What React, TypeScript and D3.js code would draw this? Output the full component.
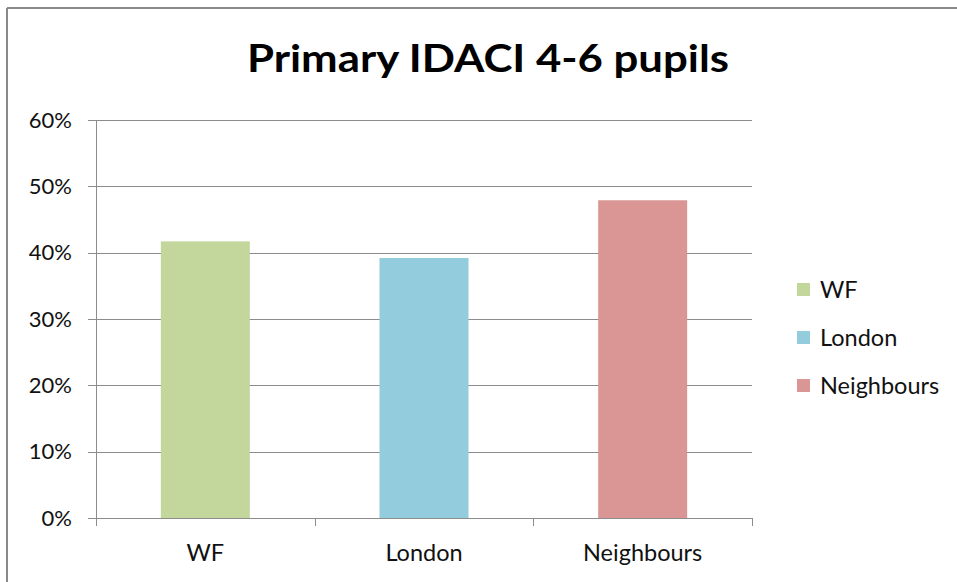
import React from "react";
import * as d3 from "d3";

const categories = ["WF", "London", "Neighbours"];
const values = [0.417, 0.392, 0.479];
const colors = ["#c3d69b", "#93cddd", "#d99694"];
const yTicks = [0, 0.1, 0.2, 0.3, 0.4, 0.5, 0.6];
const title = "Primary IDACI 4-6 pupils";

const W = 957;
const H = 582;
const FONT = "Lato, 'Open Sans', sans-serif";

export default function App() {
  const left = 96;
  const right = 752;
  const top = 120;
  const bottom = 518;

  const x = d3.scaleBand<string>().domain(categories).range([left, right]).paddingInner(0.593).paddingOuter(0.2965);
  const xOuter = d3.scaleBand<string>().domain(categories).range([left, right]).padding(0);
  const y = d3.scaleLinear().domain([0, 0.6]).range([bottom, top]);
  const fmt = d3.format(".0%");
  const grid = "#8c8c8c";
  const textFill = "#111";

  return (
    <svg width={W} height={H} style={{ position: "absolute", left: 0, top: 0, background: "#fff" }}>
      <rect x={0} y={0} width={W} height={H} fill="#fff" />
      {/* outer chart border (cropped on right/bottom) */}
      <line x1={7} y1={8} x2={W} y2={8} stroke="#8a8a8a" strokeWidth={2} />
      <line x1={7} y1={8} x2={7} y2={H} stroke="#8a8a8a" strokeWidth={2} />

      <text x={488} y={72} textAnchor="middle" fontFamily={FONT} fontWeight="bold" fontSize={38} fill="#000"
        textLength={482} lengthAdjust="spacingAndGlyphs">{title}</text>

      {/* gridlines */}
      {yTicks.map((t) => (
        <g key={t}>
          <line x1={left - 8} x2={right} y1={Math.round(y(t)) + 0.5} y2={Math.round(y(t)) + 0.5} stroke={grid} strokeWidth={1} />
          <text x={72} y={y(t)} dy="0.35em" textAnchor="end" fontFamily={FONT} fontSize={22} fill={textFill}>{fmt(t)}</text>
        </g>
      ))}
      {/* y axis */}
      <line x1={left + 0.5} x2={left + 0.5} y1={top} y2={bottom} stroke={grid} strokeWidth={1} />
      {/* x axis ticks */}
      {[...categories.map((c) => xOuter(c) as number), right].map((px, i) => (
        <line key={i} x1={Math.round(px) + 0.5} x2={Math.round(px) + 0.5} y1={bottom} y2={bottom + 8} stroke={grid} strokeWidth={1} />
      ))}

      {/* bars */}
      {categories.map((c, i) => (
        <rect key={c} x={x(c)} y={y(values[i])} width={x.bandwidth()} height={bottom - y(values[i])} fill={colors[i]} />
      ))}
      <line x1={left} x2={right} y1={bottom + 0.5} y2={bottom + 0.5} stroke={grid} strokeWidth={1} />

      {/* x labels */}
      {categories.map((c) => (
        <text key={c} x={(x(c) as number) + x.bandwidth() / 2} y={561} textAnchor="middle" fontFamily={FONT} fontSize={23.5} fill={textFill}>{c}</text>
      ))}

      {/* legend */}
      {categories.map((c, i) => (
        <g key={c} transform={`translate(797, ${290 + i * 48})`}>
          <rect x={0} y={-7} width={13} height={13} fill={colors[i]} />
          <text x={23} y={0} dy="0.35em" fontFamily={FONT} fontSize={23.5} fill={textFill}>{c}</text>
        </g>
      ))}
    </svg>
  );
}
